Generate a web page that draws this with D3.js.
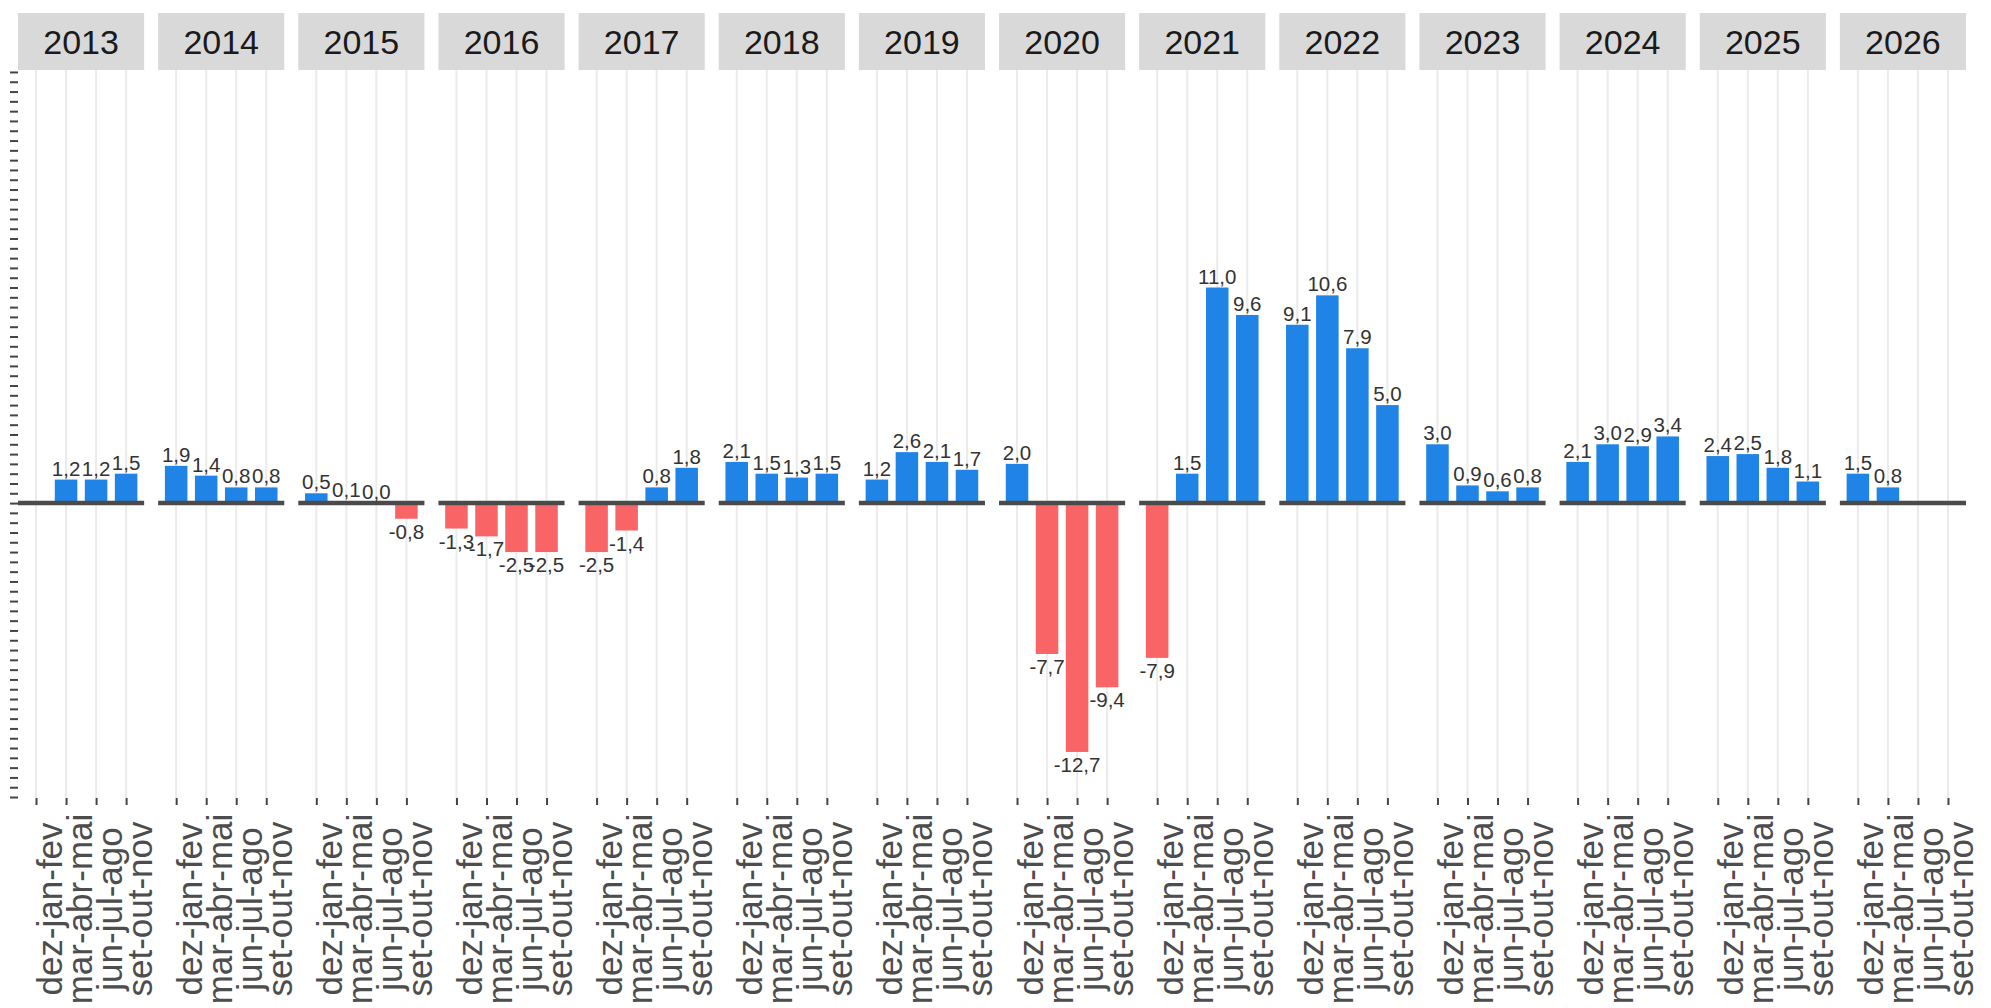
<!DOCTYPE html>
<html>
<head>
<meta charset="utf-8">
<script src="https://cdn.jsdelivr.net/npm/d3@7"></script>
<style>
  html, body { margin: 0; padding: 0; background: #ffffff; }
  svg { display: block; font-family: "Liberation Sans", Arial, sans-serif; }
</style>
</head>
<body>
<svg id="chart" width="1991" height="1008"></svg>
<script>
// ---- data ----
const years = ["2013","2014","2015","2016","2017","2018","2019","2020","2021","2022","2023","2024","2025","2026"];
const quarters = ["dez-jan-fev","mar-abr-mai","jun-jul-ago","set-out-nov"];
const decJanFeb = [null, 1.9, 0.5, -1.3, -2.5, 2.1, 1.2, 2.0, -7.9, 9.1, 3.0, 2.1, 2.4, 1.5];
const marAprMay = [1.2, 1.4, 0.1, -1.7, -1.4, 1.5, 2.6, -7.7, 1.5, 10.6, 0.9, 3.0, 2.5, 0.8];
const junJulAug = [1.2, 0.8, 0.0, -2.5, 0.8, 1.3, 2.1, -12.7, 11.0, 7.9, 0.6, 2.9, 1.8, null];
const sepOctNov = [1.5, 0.8, -0.8, -2.5, 1.8, 1.5, 1.7, -9.4, 9.6, 5.0, 0.8, 3.4, 1.1, null];
const yDomain = [-15.05, 22.1];
const yTickStep = 0.5;

const series = [decJanFeb, marAprMay, junJulAug, sepOctNov];
const rows = [];
years.forEach((yr, i) => {
  quarters.forEach((q, j) => {
    const v = series[j][i];
    if (v !== null) rows.push({ year: yr, quarter: q, value: v });
  });
});

// ---- layout ----
const svg = d3.select("#chart");
const plotTop = 70, plotBottom = 798;
const stripTop = 13;
const blue = "#1f84e6", red = "#f96566";

const fx = d3.scaleBand().domain(years).range([18, 1966]).paddingInner(0.1).paddingOuter(0);
const x = d3.scalePoint().domain(quarters).range([0, fx.bandwidth()]).padding(0.6);
const y = d3.scaleLinear().domain(yDomain).range([plotBottom, plotTop]);
const barW = x.step() * 0.75;
const locale = d3.formatLocale({ decimal: ",", thousands: ".", grouping: [3], currency: ["", ""], minus: "-" });
const fmt = locale.format(".1f");

// y axis: ticks only, no labels
const yTicks = d3.range(Math.ceil(yDomain[0] / yTickStep) * yTickStep, yDomain[1] + 1e-9, yTickStep);
const yAxis = svg.append("g").attr("transform", `translate(18,0)`)
  .call(d3.axisLeft(y).tickValues(yTicks).tickFormat("").tickSizeInner(8).tickSizeOuter(0));
yAxis.select(".domain").remove();
yAxis.selectAll(".tick line").attr("stroke", "#444").attr("stroke-width", 2);

const panels = svg.selectAll("g.panel").data(years).join("g")
  .attr("class", "panel")
  .attr("transform", d => `translate(${fx(d)},0)`);

// strips
panels.append("rect")
  .attr("x", 0).attr("y", stripTop)
  .attr("width", fx.bandwidth()).attr("height", plotTop - stripTop)
  .attr("fill", "#d9d9d9");
panels.append("text")
  .attr("x", fx.bandwidth() / 2).attr("y", (stripTop + plotTop) / 2)
  .attr("dy", "0.36em")
  .attr("text-anchor", "middle")
  .attr("font-size", 34).attr("fill", "#1a1a1a")
  .text(d => d);

// vertical grid lines
panels.each(function () {
  d3.select(this).selectAll("line.grid").data(quarters).join("line")
    .attr("class", "grid")
    .attr("x1", d => x(d)).attr("x2", d => x(d))
    .attr("y1", plotTop).attr("y2", plotBottom)
    .attr("stroke", "#ebebeb").attr("stroke-width", 2);
});

// bars
panels.each(function (yr) {
  const g = d3.select(this);
  const data = rows.filter(r => r.year === yr);
  g.selectAll("rect.bar").data(data).join("rect")
    .attr("class", "bar")
    .attr("x", d => x(d.quarter) - barW / 2)
    .attr("width", barW)
    .attr("y", d => y(Math.max(0, d.value)))
    .attr("height", d => Math.abs(y(d.value) - y(0)))
    .attr("fill", d => d.value >= 0 ? blue : red);

  // zero line
  g.append("line")
    .attr("x1", 0).attr("x2", fx.bandwidth())
    .attr("y1", y(0)).attr("y2", y(0))
    .attr("stroke", "#4a4a4a").attr("stroke-width", 4.5);

  // value labels
  g.selectAll("text.lbl").data(data).join("text")
    .attr("class", "lbl")
    .attr("x", d => x(d.quarter))
    .attr("y", d => d.value >= 0 ? y(d.value) - 4 : y(d.value) + 20)
    .attr("text-anchor", "middle")
    .attr("font-size", 20.5).attr("fill", "#333")
    .text(d => fmt(d.value));

  // bottom axis with rotated labels
  const ax = g.append("g").attr("transform", `translate(0,${plotBottom})`)
    .call(d3.axisBottom(x).tickSizeInner(7).tickSizeOuter(0));
  ax.select(".domain").remove();
  ax.selectAll(".tick line").attr("stroke", "#444").attr("stroke-width", 2);
  ax.selectAll(".tick text")
    .attr("x", null).attr("y", null).attr("dy", null)
    .attr("transform", `translate(25,${909 - plotBottom}) rotate(-90)`)
    .attr("text-anchor", "middle")
    .attr("font-size", 35)
    .attr("font-family", "Liberation Sans, Arial, sans-serif")
    .attr("fill", "#4d4d4d");
});
</script>
</body>
</html>
